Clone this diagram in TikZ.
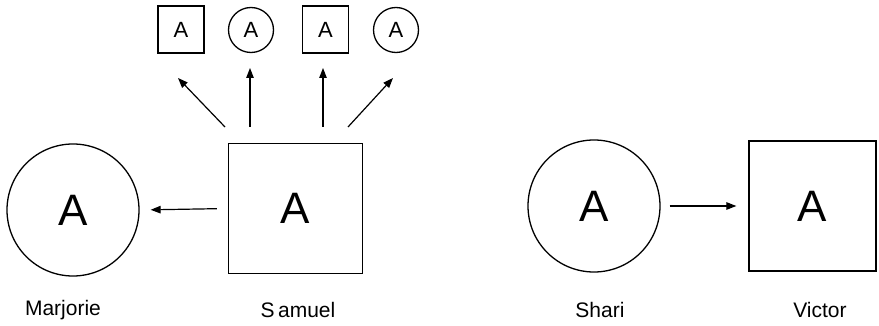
\documentclass[tikz,border=0pt]{standalone}
\usepackage{fontspec}
\setmainfont{Liberation Sans}
\usetikzlibrary{arrows.meta}
\begin{document}
\begin{tikzpicture}[x=1pt,y=-1pt,
  line width=1.3pt,
  bigcirc/.style={draw,circle,minimum size=132pt,inner sep=0pt,font=\fontsize{44}{44}\selectfont},
  bigbox/.style={draw,rectangle,minimum width=134pt,minimum height=130pt,inner sep=0pt,font=\fontsize{44}{44}\selectfont},
  smallcirc/.style={draw,circle,minimum size=45pt,inner sep=0pt,font=\fontsize{22}{22}\selectfont},
  smallbox/.style={draw,rectangle,minimum width=46pt,minimum height=47pt,inner sep=0pt,font=\fontsize{22}{22}\selectfont},
  personlabel/.style={font=\fontsize{21}{21}\selectfont},
  link/.style={-{Triangle[length=10pt,width=7.5pt]},line width=1.2pt}]
\useasboundingbox (0,0) rectangle (879,326);
% left group
\node[bigcirc] (marj) at (73,210) {A};
\node[bigbox] (sam) at (295.5,208.5) {A};
\node[smallbox] (s1) at (181,29.5) {A};
\node[smallcirc] (c2) at (251,30) {A};
\node[smallbox] (s3) at (325.5,29.5) {A};
\node[smallcirc] (c4) at (396,30) {A};
\node[personlabel] (lm) at (63,310) {Marjorie};
\node[personlabel] (ls) at (298,310) {S\,amuel};
% right group
\node[bigcirc] (shari) at (594,206) {A};
\node[bigbox,minimum width=127pt] (vic) at (812.5,206) {A};
\node[personlabel] (lsh) at (600,310) {Shari};
\node[personlabel] (lv) at (820,310) {Victor};
% connectors
\draw[link,shorten <=11pt,shorten >=11pt] (sam.west) -- (marj.east);
\draw[link,shorten <=9pt,shorten >=12pt] (shari.east) -- (vic.west);
\coordinate (t1) at (225,127); \coordinate (h1) at (178,78);
\coordinate (t2) at (250,127); \coordinate (h2) at (250,68);
\coordinate (t3) at (323,127); \coordinate (h3) at (323,68);
\coordinate (t4) at (348,127); \coordinate (h4) at (393,78);
\draw[link] (t1) -- (h1);
\draw[link] (t2) -- (h2);
\draw[link] (t3) -- (h3);
\draw[link] (t4) -- (h4);
\end{tikzpicture}
\end{document}
